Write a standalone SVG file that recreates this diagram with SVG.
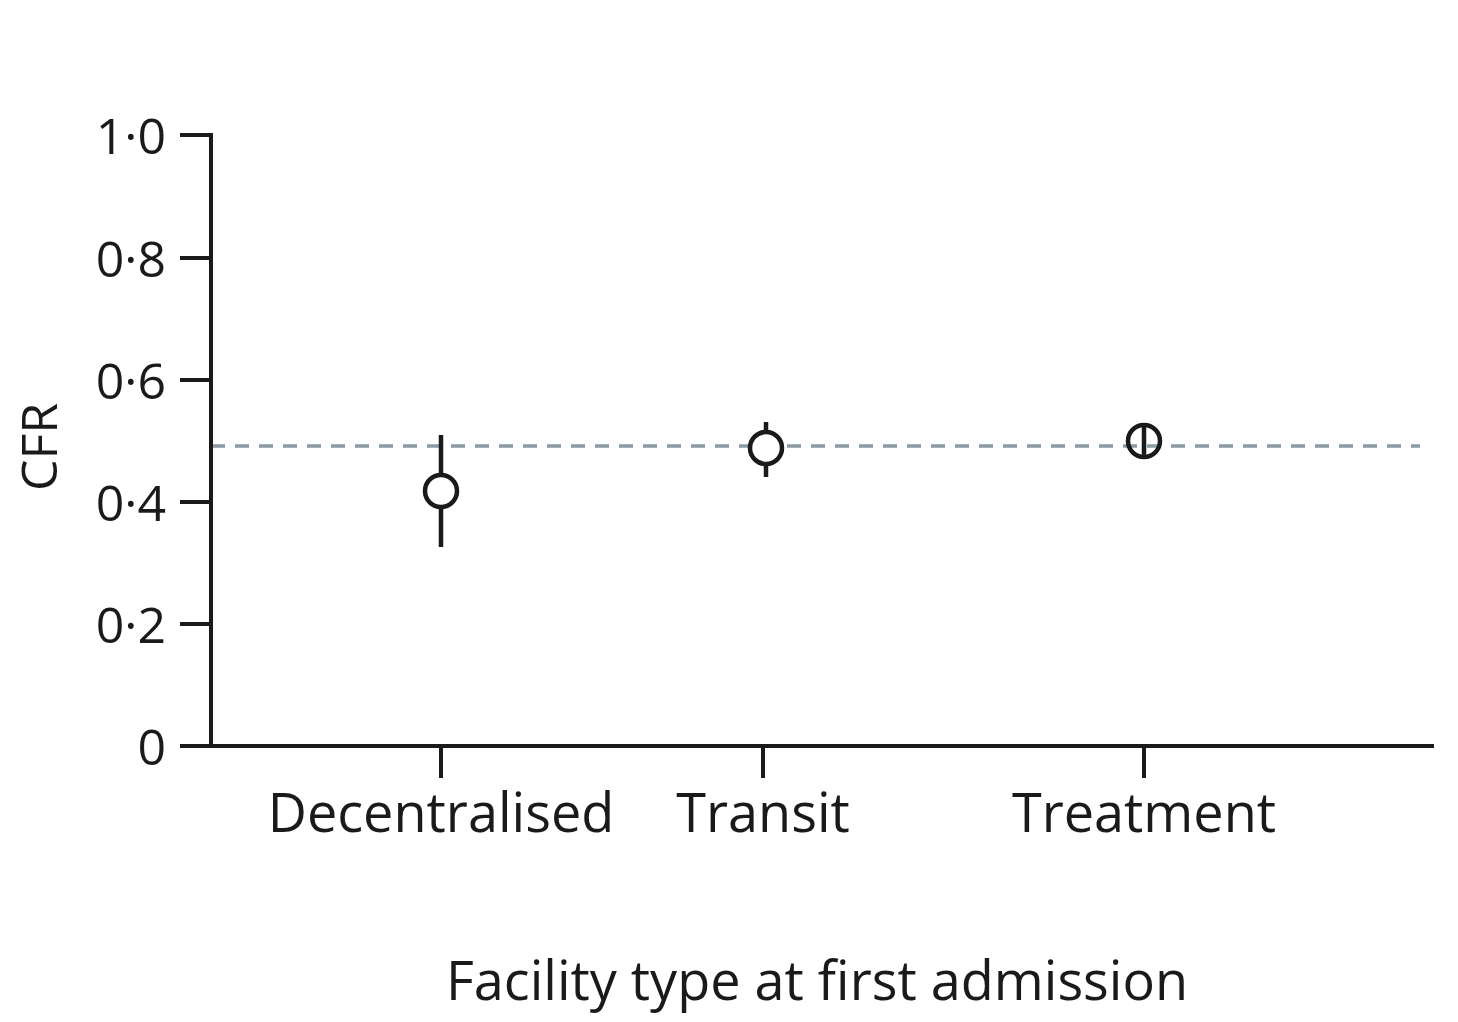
<svg xmlns="http://www.w3.org/2000/svg" width="1458" height="1022" viewBox="0 0 1458 1022">
<style>
.ax{stroke:#1a1a1a;stroke-width:4;fill:none}
.t{font-family:"Open Sans","Liberation Sans",sans-serif;fill:#1a1a1a}
.tk{font-size:50px;text-anchor:end}
.cat{font-size:54px;text-anchor:middle}
.pt{stroke:#1a1a1a;stroke-width:4.5;fill:none}
</style>
<rect width="1458" height="1022" fill="#fff"/>
<line x1="211" y1="746" x2="1420" y2="446" stroke="none"/>
<line x1="211" y1="446" x2="1420" y2="446" stroke="#8a9aa5" stroke-width="3.5" stroke-dasharray="14,10"/>
<path class="ax" d="M180,135H211V746H1434M180,258H211M180,380H211M180,502H211M180,624H211M180,746H211M441,746V778M763,746V778M1144,746V778"/>
<g class="t tk">
<text x="166" y="154">1·0</text>
<text x="166" y="277">0·8</text>
<text x="166" y="399">0·6</text>
<text x="166" y="521">0·4</text>
<text x="166" y="643">0·2</text>
<text x="166" y="765">0</text>
</g>
<g class="t cat">
<text x="441" y="832">Decentralised</text>
<text x="763" y="832">Transit</text>
<text x="1144" y="832">Treatment</text>
<text x="817" y="1000">Facility type at first admission</text>
</g>
<text class="t" font-size="50" text-anchor="middle" transform="translate(40,447) rotate(-90)" dy="17">CFR</text>
<g class="pt">
<line x1="441" y1="435" x2="441" y2="547"/><circle cx="441" cy="491" r="16" fill="#fff"/>
<line x1="766" y1="422" x2="766" y2="477"/><circle cx="766" cy="448" r="16" fill="#fff"/>
<line x1="1144" y1="425" x2="1144" y2="457"/><circle cx="1144" cy="441" r="16"/>
</g>
</svg>
